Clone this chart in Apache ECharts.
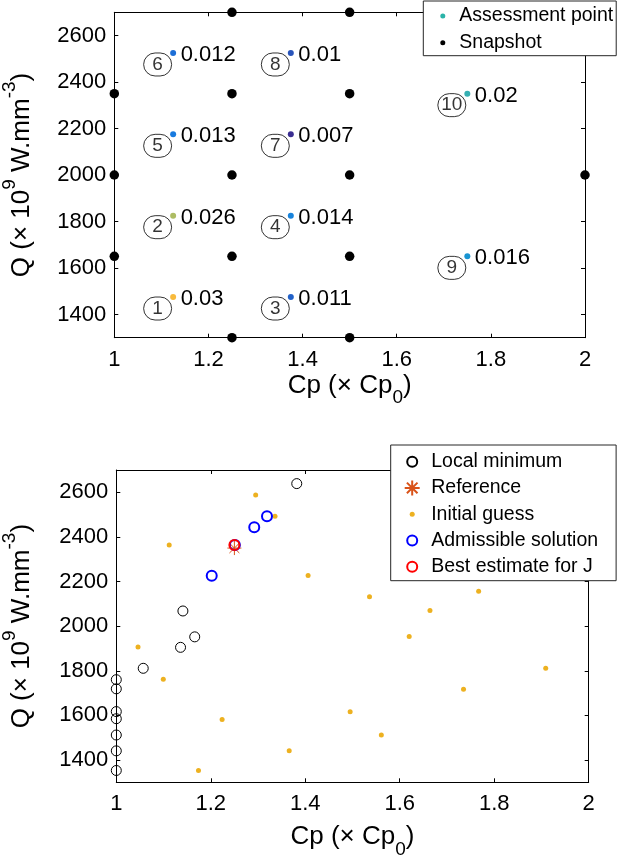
<!DOCTYPE html>
<html>
<head>
<meta charset="utf-8">
<script src="https://cdn.jsdelivr.net/npm/echarts@6/dist/echarts.min.js"></script>
<style>
html,body{margin:0;padding:0;background:#fff;}
#chart{width:621px;height:864px;}
</style>
</head>
<body>
<div id="chart"></div>
<script>
// ---------- data: top chart ----------
var xTicks = [1, 1.2, 1.4, 1.6, 1.8, 2];
var yTicks = [1400, 1600, 1800, 2000, 2200, 2400, 2600];

var snapshotCp = [1, 1, 1, 1.25, 1.25, 1.25, 1.25, 1.25, 1.5, 1.5, 1.5, 1.5, 1.5, 2];
var snapshotQ  = [1650, 2000, 2350, 1300, 1650, 2000, 2350, 2700, 1300, 1650, 2000, 2350, 2700, 2000];

var assessId  = [1, 2, 3, 4, 5, 6, 7, 8, 9, 10];
var assessCp  = [1.125, 1.125, 1.375, 1.375, 1.125, 1.125, 1.375, 1.375, 1.75, 1.75];
var assessQ   = [1475, 1825, 1475, 1825, 2175, 2525, 2175, 2525, 1650, 2350];
var assessErr = [0.03, 0.026, 0.011, 0.014, 0.013, 0.012, 0.007, 0.01, 0.016, 0.02];

// ---------- data: bottom chart ----------
var localMinCp = [1.382, 1.141, 1.166, 1.136, 1.057, 1, 1, 1, 1, 1, 1, 1];
var localMinQ  = [2639, 2068, 1952, 1905, 1811, 1760, 1719, 1617, 1585, 1512, 1441, 1353];
var referenceCp = [1.25];
var referenceQ  = [2350];
var initialCp = [1.295, 1.336, 1.112, 1.406, 1.046, 1.536, 1.767, 1.664, 1.620, 1.0995, 1.224, 1.174, 1.366, 1.909, 1.735, 1.495, 1.561];
var initialQ  = [2588, 2493, 2364, 2227, 1906, 2132, 2157, 2070, 1954, 1762, 1582, 1353, 1441, 1811, 1717, 1616, 1512];
var admissibleCp = [1.202, 1.251, 1.292, 1.319];
var admissibleQ  = [2226, 2364, 2443, 2493];
var bestCp = [1.25];
var bestQ  = [2364];

// ---------- helpers ----------
var FONT = "'Liberation Sans', Arial, Helvetica, sans-serif";
var INK = '#000';
function pairs(xs, ys) { return xs.map(function (x, i) { return [x, ys[i]]; }); }
function triples(xs, ys, zs) { return xs.map(function (x, i) { return [x, ys[i], zs[i]]; }); }

var xName = '{a|Cp (× Cp}{sub|0}{a|)}';
var yName = '{a|Q (× 10}{sup|9}{a| W.mm}{sup|-3}{a|)}';
var nameRich = {
  a:   { fontSize: 26, fontFamily: FONT, color: INK, lineHeight: 44 },
  sub: { fontSize: 19, fontFamily: FONT, color: INK, lineHeight: 18, verticalAlign: 'bottom' },
  sup: { fontSize: 19, fontFamily: FONT, color: INK, lineHeight: 18, verticalAlign: 'top' }
};

function xAxisMain(grid, gap) {
  return {
    gridIndex: grid, type: 'value', min: 1, max: 2, position: 'bottom',
    axisLine: { show: true, onZero: false, lineStyle: { color: INK, width: 1 } },
    axisTick: { show: true, inside: true, length: 4, customValues: xTicks, lineStyle: { color: INK } },
    axisLabel: { show: true, customValues: xTicks, margin: 11, fontSize: 22, color: INK, fontFamily: FONT,
      formatter: function (v) { return String(+(+v).toFixed(2)); } },
    splitLine: { show: false },
    name: xName, nameLocation: 'middle', nameGap: gap,
    nameTextStyle: { fontSize: 26, fontFamily: FONT, color: INK, rich: nameRich }
  };
}
function xAxisTop(grid) {
  return {
    gridIndex: grid, type: 'value', min: 1, max: 2, position: 'top',
    axisLine: { show: true, onZero: false, lineStyle: { color: INK, width: 1 } },
    axisTick: { show: true, inside: true, length: 4, customValues: xTicks, lineStyle: { color: INK } },
    axisLabel: { show: false }, splitLine: { show: false }
  };
}
function yAxisMain(grid, gap) {
  return {
    gridIndex: grid, type: 'value', min: 1300, max: 2700, position: 'left',
    axisLine: { show: true, onZero: false, lineStyle: { color: INK, width: 1 } },
    axisTick: { show: true, inside: true, length: 4, customValues: yTicks, lineStyle: { color: INK } },
    axisLabel: { show: true, customValues: yTicks, margin: 8, fontSize: 22, color: INK, fontFamily: FONT,
      formatter: function (v) { return String(Math.round(v)); } },
    splitLine: { show: false },
    name: yName, nameLocation: 'middle', nameGap: gap, nameRotate: 90,
    nameTextStyle: { fontSize: 26, fontFamily: FONT, color: INK, rich: nameRich }
  };
}
function yAxisRight(grid) {
  return {
    gridIndex: grid, type: 'value', min: 1300, max: 2700, position: 'right',
    axisLine: { show: true, onZero: false, lineStyle: { color: INK, width: 1 } },
    axisTick: { show: true, inside: true, length: 4, customValues: yTicks, lineStyle: { color: INK } },
    axisLabel: { show: false }, splitLine: { show: false }
  };
}

var ASTERISK = 'path://M0,-10L0,10M-10,0L10,0M-7.07,-7.07L7.07,7.07M-7.07,7.07L7.07,-7.07';
// legend icons padded to a 15x15 box so that they keep their marker size
var LEG_CIRCLE = 'path://M-7.5,-7.5L-7.5,-7.5M7.5,7.5L7.5,7.5M-5,0A5,5,0,1,1,5,0A5,5,0,1,1,-5,0Z';
var LEG_DOT = 'path://M-7.5,-7.5L-7.5,-7.5M7.5,7.5L7.5,7.5M-2.5,0A2.5,2.5,0,1,1,2.5,0A2.5,2.5,0,1,1,-2.5,0Z';

var chart = echarts.init(document.getElementById('chart'), null, { renderer: 'canvas' });
var option = {
  animation: false,
  backgroundColor: '#fff',
  textStyle: { fontFamily: FONT },
  grid: [
    { left: 114.3, top: 12.3, width: 470.7, height: 325.4, outerBoundsMode: 'none', containLabel: false },
    { left: 116.3, top: 470, width: 472.4, height: 312.3, outerBoundsMode: 'none', containLabel: false }
  ],
  xAxis: [xAxisMain(0, 26), xAxisTop(0), xAxisMain(1, 33), xAxisTop(1)],
  yAxis: [yAxisMain(0, 70), yAxisRight(0), yAxisMain(1, 72), yAxisRight(1)],
  visualMap: [{
    type: 'continuous', show: false, seriesIndex: 1, dimension: 2,
    min: 0.007, max: 0.03,
    inRange: { color: ['#3a2d91', '#1878e0', '#18aac8', '#8cbd74', '#f8ba3c'] }
  }],
  legend: [
    {
      orient: 'vertical', left: 423.3, top: 1,
      data: ['Assessment point', 'Snapshot'],
      itemWidth: 23, itemHeight: 5, itemGap: 6.7,
      padding: [5, 3, 3, 17],
      borderColor: '#262626', borderWidth: 1, backgroundColor: '#fff',
      textStyle: { fontSize: 19.5, color: INK, fontFamily: FONT, lineHeight: 20 },
      selectedMode: false
    },
    {
      orient: 'vertical', left: 390.7, top: 445,
      data: [
        { name: 'Local minimum', icon: LEG_CIRCLE },
        { name: 'Reference' },
        { name: 'Initial guess', icon: LEG_DOT },
        { name: 'Admissible solution', icon: LEG_CIRCLE },
        { name: 'Best estimate for J', icon: LEG_CIRCLE }
      ],
      itemWidth: 28, itemHeight: 15, itemGap: 6.25,
      padding: [6.7, 18, 4, 13],
      borderColor: '#262626', borderWidth: 1, backgroundColor: '#fff',
      textStyle: { fontSize: 19.5, color: INK, fontFamily: FONT, lineHeight: 20 },
      selectedMode: false
    }
  ],
  series: [
    {
      name: 'Snapshot', type: 'scatter', xAxisIndex: 0, yAxisIndex: 0, clip: false,
      symbol: 'circle', symbolSize: 9.5,
      itemStyle: { color: '#000', opacity: 1 },
      data: pairs(snapshotCp, snapshotQ), z: 3
    },
    {
      name: 'Assessment point', type: 'scatter', xAxisIndex: 0, yAxisIndex: 0, clip: false,
      symbol: 'circle', symbolSize: 6,
      itemStyle: { color: '#2ab3a8', opacity: 1 },
      label: {
        show: true, position: 'right', distance: 4.5, offset: [0, 2],
        fontSize: 22, color: INK, fontFamily: FONT,
        formatter: function (p) { return String(p.value[2]); }
      },
      data: triples(assessCp, assessQ, assessErr), z: 4
    },
    {
      name: 'assessment-id', type: 'scatter', xAxisIndex: 0, yAxisIndex: 0, clip: false,
      symbol: 'circle', symbolSize: 1, silent: true,
      itemStyle: { color: 'rgba(0,0,0,0)' },
      label: {
        show: true, position: 'inside', offset: [-15.5, 11.5],
        fontSize: 19, color: INK, fontFamily: FONT,
        borderColor: '#000', borderWidth: 1, borderRadius: 12,
        width: 28, height: 23, lineHeight: 23, align: 'center', verticalAlign: 'middle',
        formatter: function (p) { return String(p.value[2]); }
      },
      data: triples(assessCp, assessQ, assessId), z: 4
    },
    {
      name: 'Local minimum', type: 'scatter', xAxisIndex: 2, yAxisIndex: 2, clip: false,
      symbol: 'circle', symbolSize: 10,
      itemStyle: { color: 'rgba(0,0,0,0)', borderColor: '#000', borderWidth: 1, opacity: 1 },
      data: pairs(localMinCp, localMinQ), z: 3
    },
    {
      name: 'Reference', type: 'scatter', xAxisIndex: 2, yAxisIndex: 2, clip: false,
      symbol: ASTERISK, symbolSize: 14,
      itemStyle: { color: 'rgba(0,0,0,0)', borderColor: '#d95319', borderWidth: 1, opacity: 1 },
      data: pairs(referenceCp, referenceQ), z: 3
    },
    {
      name: 'Initial guess', type: 'scatter', xAxisIndex: 2, yAxisIndex: 2, clip: false,
      symbol: 'circle', symbolSize: 5,
      itemStyle: { color: '#edb120', opacity: 1 },
      data: pairs(initialCp, initialQ), z: 3
    },
    {
      name: 'Admissible solution', type: 'scatter', xAxisIndex: 2, yAxisIndex: 2, clip: false,
      symbol: 'circle', symbolSize: 10,
      itemStyle: { color: 'rgba(0,0,0,0)', borderColor: '#0000ff', borderWidth: 2, opacity: 1 },
      data: pairs(admissibleCp, admissibleQ), z: 3
    },
    {
      name: 'Best estimate for J', type: 'scatter', xAxisIndex: 2, yAxisIndex: 2, clip: false,
      symbol: 'circle', symbolSize: 10,
      itemStyle: { color: 'rgba(0,0,0,0)', borderColor: '#ff0000', borderWidth: 2, opacity: 1 },
      data: pairs(bestCp, bestQ), z: 3
    }
  ]
};
chart.setOption(option);
</script>
</body>
</html>
